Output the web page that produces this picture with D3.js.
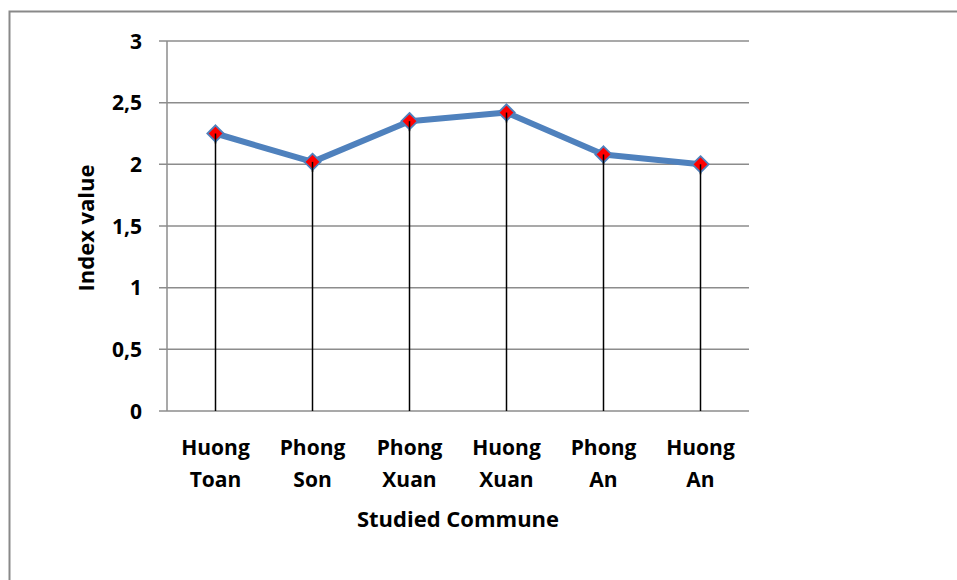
<!DOCTYPE html>
<html>
<head>
<meta charset="utf-8">
<script src="https://cdn.jsdelivr.net/npm/d3@7"></script>
<style>
  body { margin: 0; background: #fff; }
  svg text { font-family: "Open Sans", Lato, sans-serif; font-weight: 700; fill: #000; }
</style>
</head>
<body>
<svg id="chart" width="957" height="580"></svg>
<script>
// Data
const communes = [["Huong", "Toan"], ["Phong", "Son"], ["Phong", "Xuan"], ["Huong", "Xuan"], ["Phong", "An"], ["Huong", "An"]];
const indexValues = [2.25, 2.02, 2.35, 2.42, 2.08, 2.0];
const yTicks = [0, 0.5, 1, 1.5, 2, 2.5, 3];

const svg = d3.select("#chart");

// outer frame (runs off the right / bottom edge)
svg.append("rect")
  .attr("x", 9.5).attr("y", 11.5)
  .attr("width", 960).attr("height", 580)
  .attr("fill", "none").attr("stroke", "#898989").attr("stroke-width", 2);

const plot = { left: 167, right: 749, top: 41, bottom: 411 };

const x = d3.scaleBand()
  .domain(communes.map((d, i) => i))
  .range([plot.left, plot.right]);

const y = d3.scaleLinear()
  .domain([0, 3])
  .range([plot.bottom, plot.top]);

const cx = i => x(i) + x.bandwidth() / 2;

// horizontal gridlines with small tick stubs to the left
svg.append("g").selectAll("line")
  .data(yTicks)
  .enter()
  .append("line")
  .attr("x1", plot.left - 8)
  .attr("x2", plot.right)
  .attr("y1", d => y(d))
  .attr("y2", d => y(d))
  .attr("stroke", "#8c8c8c")
  .attr("stroke-width", 1.5);

// y axis line
svg.append("line")
  .attr("x1", plot.left).attr("x2", plot.left)
  .attr("y1", plot.top).attr("y2", plot.bottom)
  .attr("stroke", "#8c8c8c").attr("stroke-width", 1.5);

// y tick labels, comma decimal
const fmt = d => String(d).replace(".", ",");
svg.append("g").selectAll("text")
  .data(yTicks)
  .enter()
  .append("text")
  .attr("x", 142)
  .attr("y", d => y(d))
  .attr("dy", "0.36em")
  .attr("text-anchor", "end")
  .attr("font-size", 21)
  .text(fmt);

// drop lines from points to the axis
svg.append("g").selectAll("line")
  .data(indexValues)
  .enter()
  .append("line")
  .attr("x1", (d, i) => cx(i))
  .attr("x2", (d, i) => cx(i))
  .attr("y1", d => y(d))
  .attr("y2", plot.bottom)
  .attr("stroke", "#000")
  .attr("stroke-width", 1.5);

// series line
const line = d3.line()
  .x((d, i) => cx(i))
  .y(d => y(d));

svg.append("path")
  .datum(indexValues)
  .attr("d", line)
  .attr("fill", "none")
  .attr("stroke", "#4f81bd")
  .attr("stroke-width", 6)
  .attr("stroke-linejoin", "round");

// diamond markers
const diamond = d3.symbol().type(d3.symbolDiamond2).size(170);
svg.append("g").selectAll("path")
  .data(indexValues)
  .enter()
  .append("path")
  .attr("d", diamond)
  .attr("transform", (d, i) => `translate(${cx(i)},${y(d)})`)
  .attr("fill", "#ff0000")
  .attr("stroke", "#4f81bd")
  .attr("stroke-width", 1.8);

// drop line tips drawn over the marker (as in the reference)
svg.append("g").selectAll("line")
  .data(indexValues)
  .enter()
  .append("line")
  .attr("x1", (d, i) => cx(i))
  .attr("x2", (d, i) => cx(i))
  .attr("y1", d => y(d))
  .attr("y2", d => y(d) + 10)
  .attr("stroke", "#000")
  .attr("stroke-width", 1.5);

// x category labels, two lines
const xl = svg.append("g").selectAll("text")
  .data(communes)
  .enter()
  .append("text")
  .attr("text-anchor", "middle")
  .attr("font-size", 21)
  .attr("x", (d, i) => cx(i))
  .attr("y", 455);
xl.append("tspan")
  .attr("x", (d, i) => cx(i))
  .text(d => d[0]);
xl.append("tspan")
  .attr("x", (d, i) => cx(i))
  .attr("dy", 32)
  .text(d => d[1]);

// axis titles
svg.append("text")
  .attr("x", (plot.left + plot.right) / 2)
  .attr("y", 527)
  .attr("text-anchor", "middle")
  .attr("font-size", 22)
  .text("Studied Commune");

svg.append("text")
  .attr("transform", "translate(94,228) rotate(-90)")
  .attr("text-anchor", "middle")
  .attr("font-size", 22)
  .text("Index value");
</script>
</body>
</html>
